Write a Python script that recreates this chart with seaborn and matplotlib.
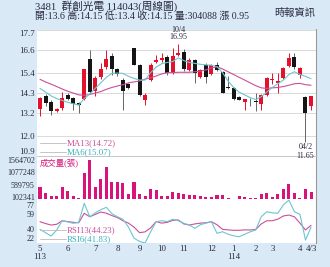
import numpy as np
import pandas as pd
import matplotlib
matplotlib.use("Agg")
import matplotlib.pyplot as plt
from matplotlib.lines import Line2D
from matplotlib.patches import Rectangle
from matplotlib.transforms import ScaledTranslation
import seaborn as sns

# ---------------- data ----------------
opens  = [13.43,14.15,13.84,13.35,13.48,14.20,14.05,13.75,13.98,16.13,
          14.42,15.14,15.68,16.30,15.60,15.00,14.78,16.72,15.82,13.93,
          15.01,16.00,16.09,16.27,15.40,16.36,16.49,15.55,16.09,15.19,
          15.84,15.32,15.84,15.46,14.60,14.56,14.10,13.82,13.95,13.88,
          13.70,14.20,15.00,14.86,15.10,15.77,16.27,15.28,14.10,13.60]
highs  = [14.10,14.25,13.93,13.48,14.38,14.29,14.10,13.80,15.60,16.60,
          15.20,15.90,16.60,16.45,15.65,15.10,14.85,16.75,15.85,14.30,
          15.90,16.36,16.45,16.35,16.72,16.95,16.70,16.20,16.15,15.60,
          15.90,15.85,16.00,15.50,15.20,14.60,14.15,14.00,14.05,14.30,
          14.25,15.15,15.37,15.37,15.70,16.45,16.45,15.70,14.15,14.15]
lows   = [13.06,13.60,13.12,13.30,13.39,13.90,13.39,13.20,13.90,14.30,
          14.15,15.05,15.60,15.28,15.20,13.39,14.50,15.80,14.15,13.66,
          14.95,15.90,16.00,15.30,15.35,16.30,15.50,15.50,14.83,15.10,
          14.83,15.25,15.50,14.30,14.50,13.90,13.90,13.39,13.60,13.35,
          13.39,14.15,14.80,14.30,15.05,15.70,15.60,15.10,11.65,13.40]
closes = [14.02,13.75,13.34,13.43,14.05,13.97,13.70,13.65,15.59,14.38,
          15.10,15.59,16.16,15.59,15.32,14.42,14.56,15.82,14.20,14.20,
          15.82,16.09,16.18,15.37,16.30,16.44,15.59,16.09,15.37,15.55,
          15.19,15.80,15.55,14.32,14.55,13.97,13.93,13.97,13.90,13.82,
          14.20,15.10,15.05,14.97,15.64,16.18,15.70,15.64,13.20,14.15]
volume = [480000,240000,145000,145000,480000,320000,130000,65000,1060000,1564702,
          503000,811000,1300000,703000,703000,663000,212000,703000,212000,145000,
          400000,372000,145000,145000,304000,264000,200000,185000,175000,132000,
          92000,105000,175000,175000,65000,12000,145000,105000,52000,65000,
          212000,240000,105000,212000,400000,600000,240000,65000,400000,304088]
ma13 = [15.04,14.90,14.78,14.65,14.52,14.40,14.30,14.20,14.18,14.22,
        14.30,14.38,14.50,14.60,14.68,14.75,14.85,14.90,14.95,15.05,
        15.12,15.22,15.33,15.40,15.40,15.42,15.42,15.42,15.45,15.48,
        15.55,15.65,15.72,15.60,15.45,15.30,15.15,15.00,14.85,14.70,
        14.58,14.55,14.58,14.60,14.65,14.72,14.80,14.82,14.75,14.72]
ma6  = [14.55,14.35,14.15,14.00,13.90,13.80,13.72,13.65,14.00,14.25,
        14.55,14.85,15.15,15.36,15.38,15.36,15.20,15.09,15.00,15.00,
        15.40,15.70,15.88,15.95,16.00,16.20,16.05,15.95,15.90,15.85,
        15.82,15.80,15.72,15.40,14.95,14.60,14.35,14.20,14.05,13.95,
        14.10,14.35,14.60,14.80,15.00,15.30,15.45,15.30,15.20,15.07]
rsi13 = [48.8,46.5,44.6,45.5,50.0,49.0,48.0,47.5,59.4,55.0,
         58.0,61.0,59.5,56.5,54.0,50.0,47.0,42.0,35.0,36.0,
         41.0,49.0,47.0,48.0,50.5,51.0,46.0,44.6,46.0,47.0,
         47.5,48.8,45.0,39.2,38.5,38.0,38.0,38.5,38.4,39.0,
         46.0,50.0,50.0,52.0,56.0,57.2,55.0,47.0,38.4,44.23]
rsi6 = [39.2,35.0,30.8,38.0,50.0,48.5,46.8,48.0,72.0,55.0,
        60.0,64.0,66.9,59.0,55.0,51.8,42.0,28.0,24.0,22.0,
        36.0,48.8,50.0,49.0,51.8,50.0,46.8,44.6,40.5,45.0,
        47.0,48.8,34.2,36.2,33.0,31.0,29.9,33.0,36.0,38.4,
        55.0,61.4,60.0,59.4,70.0,76.0,61.4,58.0,25.8,41.83]

month_pos = [0, 5, 10, 14, 18, 22, 26, 31, 35, 39, 42, 47, 49]
month_lab = ["5\n113", "6", "7", "8", "9", "10", "11", "12", "1\n114", "2", "3", "4", "4/3"]
price_ticks = [10.9, 12.0, 13.2, 14.3, 15.4, 16.6, 17.7]
vol_ticks = [102341, 589795, 1077248, 1564702]
rsi_ticks = [22, 40, 59, 77]
hi_date, lo_date = "10/4", "04/2"
title = "3481  群創光電 114043(周線圖)"
source = "時報資訊"

n = len(closes)
df = pd.DataFrame({"i": np.arange(n), "open": opens, "high": highs, "low": lows,
                   "close": closes, "vol": volume, "ma13": ma13, "ma6": ma6,
                   "rsi13": rsi13, "rsi6": rsi6})

# ---------------- style ----------------
sns.set_theme(style="white")
plt.rcParams["font.family"] = ["Liberation Serif", "Noto Sans CJK TC"]

W, H = 330, 267
BG = "#d9e9f6"
RED = "#e5102b"
BLK = "#151515"
MAG = "#d8137a"
C13 = "#c9509a"
C6 = "#6cc6cf"
C6T = "#3aaec0"
TXT = "#2a2a40"

fig = plt.figure(figsize=(W / 100, H / 100), dpi=100, facecolor=BG)

def rect(x0, y0, x1, y1):
    return [x0 / W, 1 - y1 / H, (x1 - x0) / W, (y1 - y0) / H]

# white plotting area behind all panels
fig.add_artist(Rectangle((37 / W, 1 - 243 / H), (316 - 37) / W, (243 - 29.5) / H,
                         transform=fig.transFigure, facecolor="white",
                         edgecolor="none", zorder=-5))

axr = fig.add_axes(rect(37, 199.3, 316, 243))
axv = fig.add_axes(rect(37, 156, 316, 199.3))
axp = fig.add_axes(rect(37, 29.5, 316, 156))
axr.set_zorder(1)
axv.set_zorder(2)
axp.set_zorder(3)

XL = (-0.54, 49.9)

# ---- price panel ----
up = df["close"] >= df["open"]
col = np.where(up, RED, BLK)
wcol = np.where(up, RED, "#666666")
axp.vlines(df["i"], df["low"], df["high"], colors=wcol, lw=0.7, zorder=2)
body = (df["close"] - df["open"]).abs().clip(lower=0.04)
bottom = df[["open", "close"]].min(axis=1)
axp.bar(df["i"], body, bottom=bottom, width=0.72, color=col, zorder=3, linewidth=0)
sns.lineplot(data=df, x="i", y="ma13", ax=axp, color=C13, lw=0.8, zorder=4)
sns.lineplot(data=df, x="i", y="ma6", ax=axp, color=C6, lw=0.8, zorder=4)
axp.set_ylim(price_ticks[0], price_ticks[-1] + 0.03)
axp.set_yticks(price_ticks)
axp.set_yticklabels([f"{t:.1f}" for t in price_ticks])
for lab in axp.get_yticklabels():
    if lab.get_text() == "17.7":
        lab.set_va("top")
    elif lab.get_text() == "10.9":
        lab.set_va("bottom")
axp.grid(axis="y", color="#d4d4d4", lw=0.6)

ih = int(df["high"].idxmax())
il = int(df["low"].idxmin())
akw = dict(textcoords="offset points", ha="center", va="center", fontsize=5.8,
           color=TXT, annotation_clip=False, zorder=10)
axp.annotate(f"{df['high'][ih]:.2f}", (ih, df["high"][ih]), xytext=(0, 5), **akw)
axp.annotate(hi_date, (ih, df["high"][ih]), xytext=(0, 10.2), **akw)
axp.annotate(lo_date, (il, df["low"][il]), xytext=(0, -3.6), **akw)
axp.annotate(f"{df['low'][il]:.2f}", (il, df["low"][il]), xytext=(0, -10.2), **akw)

# ---- volume panel ----
sns.barplot(data=df, x="i", y="vol", ax=axv, native_scale=True, color=MAG,
            width=0.55, saturation=1, linewidth=0)
axv.set_ylim(0, 1.73e6)
axv.set_yticks(vol_ticks)
axv.set_yticklabels([str(t) for t in vol_ticks])

# ---- RSI panel ----
sns.lineplot(data=df, x="i", y="rsi13", ax=axr, color=C13, lw=0.8)
sns.lineplot(data=df, x="i", y="rsi6", ax=axr, color=C6, lw=0.8)
axr.set_ylim(rsi_ticks[0], rsi_ticks[-1])
axr.set_yticks(rsi_ticks)
axr.set_yticklabels([str(t) for t in rsi_ticks])
axr.set_xticks(month_pos)
axr.set_xticklabels(month_lab)

for ax in (axp, axv, axr):
    ax.set_xlim(*XL)
    ax.set_facecolor("none")
    ax.set_xlabel("")
    ax.set_ylabel("")
    for s in ("top", "left", "bottom"):
        ax.spines[s].set_visible(False)
    ax.spines["right"].set_color("#9a9a9a")
    ax.spines["right"].set_linewidth(0.8)
    ax.tick_params(axis="y", length=0, pad=1.5, labelsize=6.4, colors=TXT)
    ax.tick_params(axis="x", length=0, pad=1.5, labelsize=6.4, colors=TXT)
    if ax is not axr:
        ax.set_xticks([])
axv.tick_params(axis="y", labelsize=5.8)
axr.tick_params(axis="y", labelsize=5.8)
axp.spines["bottom"].set_visible(True)
axp.spines["bottom"].set_color("#bdbdbd")
axp.spines["bottom"].set_linewidth(0.6)
for lab in axr.get_xticklabels():
    lab.set_linespacing(1.0)

# keep the outermost RSI labels inside the panel, clear of the volume labels
down = ScaledTranslation(0, -2.2 / 72, fig.dpi_scale_trans)
for tick in axr.yaxis.get_major_ticks():
    lab = tick.label1
    if lab.get_text() == "77":
        lab.set_va("top")
        lab.set_transform(lab.get_transform() + down)
    elif lab.get_text() == "22":
        lab.set_va("bottom")

# ---- legend-like labels ----
def ftxt(x, y, s, **kw):
    fig.text(x / W, 1 - y / H, s, va="center", zorder=10, **kw)

def fline(x0, x1, y, c):
    fig.add_artist(Line2D([x0 / W, x1 / W], [1 - y / H, 1 - y / H], color=c, lw=0.6, zorder=10))

fline(40, 66, 143.3, "#bbbbbb")
ftxt(67, 143.3, f"MA13({ma13[-1]:.2f})", color=C13, fontsize=6.4)
fline(40, 66, 151.7, "#bbbbbb")
ftxt(67, 151.7, f"MA6({ma6[-1]:.2f})", color=C6T, fontsize=6.4)
ftxt(40, 162.7, "成交量(張)", color=MAG, fontsize=6.0)
fline(40, 66, 230, "#bbbbbb")
ftxt(67, 230, f"RSI13({rsi13[-1]:.2f})", color=C13, fontsize=6.4)
fline(40, 66, 239, "#bbbbbb")
ftxt(67, 239, f"RSI6({rsi6[-1]:.2f})", color=C6T, fontsize=6.4)

# ---- header ----
chg = closes[-1] - closes[-2]
ftxt(35, 6.5, title, color=TXT, fontsize=7.7)
ftxt(35, 16.5, f"開:{opens[-1]:g} 高:{highs[-1]:g} 低:{lows[-1]:g} 收:{closes[-1]:g} "
              f"量:{volume[-1]} 漲 {chg:.2f}", color=TXT, fontsize=7.1)
ftxt(315, 13.3, source, color=TXT, fontsize=7.4, ha="right")

fig.savefig("out.png", dpi=100, facecolor=BG)
